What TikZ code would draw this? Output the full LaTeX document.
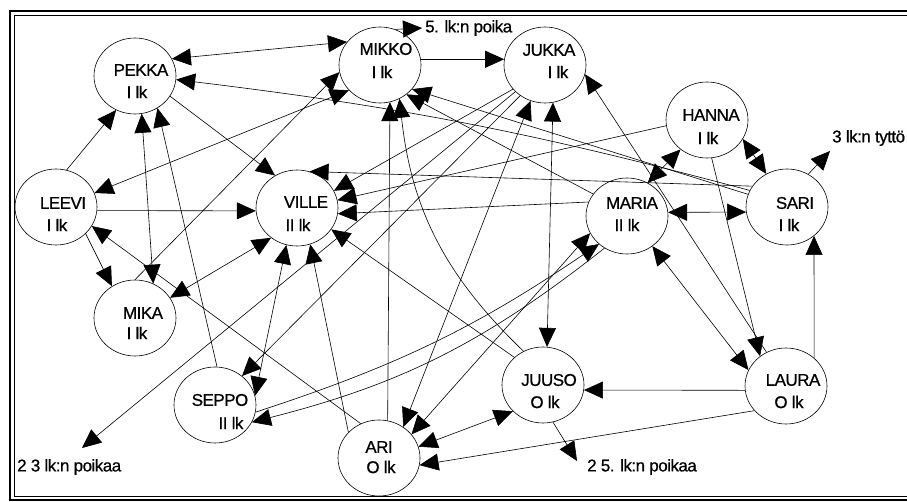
\documentclass[tikz,border=0pt]{standalone}
\usepackage{fontspec}
\setmainfont{Liberation Sans}[LetterSpace=-3, FakeBold=0.7]
\usetikzlibrary{arrows.meta,shapes.geometric}
\begin{document}
\begin{tikzpicture}[x=1pt,y=-1pt,
  pupil/.style={draw, ellipse, minimum width=82pt, minimum height=76pt, inner sep=0pt, line width=0.6pt},
  nm/.style={font=\fontsize{17}{19}\selectfont, inner sep=0pt},
  tag/.style={font=\fontsize{17}{19}\selectfont, inner sep=0pt, anchor=west},
  tie/.style={line width=0.6pt, -{Triangle[length=19pt,width=17pt]}},
  mutual/.style={line width=0.6pt, {Triangle[length=19pt,width=17pt]}-{Triangle[length=19pt,width=17pt]}},
  rim/.style={line width=2pt}
]
\useasboundingbox (0,0) rectangle (907,502);
% frame: double rule on the left, top and bottom
\draw[rim] (907,11) -- (10,11) -- (10,500) -- (907,500);
\draw[line width=0.6pt] (907,15) -- (14,15) -- (14,496) -- (907,496);

% pupils
\node[pupil] (pekka) at (135,76) {};
\node[pupil] (mikko) at (380,65) {};
\node[pupil] (jukka) at (545,65) {};
\node[pupil] (hanna) at (707,120) {};
\node[pupil] (leevi) at (56,207) {};
\node[pupil] (ville) at (297,208) {};
\node[pupil] (maria) at (627,216) {};
\node[pupil] (sari) at (787,207) {};
\node[pupil] (mika) at (135,318) {};
\node[pupil] (seppo) at (215,405) {};
\node[pupil] (ari) at (379,458) {};
\node[pupil] (juuso) at (543,385) {};
\node[pupil] (laura) at (786,386) {};

% names and grades
\node[nm] (pekka-n) at (141,70) {PEKKA};  \node[nm] (pekka-g) at (137,92) {I lk};
\node[nm] (mikko-n) at (386,49) {MIKKO};  \node[nm] (mikko-g) at (382,72) {I lk};
\node[nm] (jukka-n) at (549,50) {JUKKA};  \node[nm] (jukka-g) at (558,72) {I lk};
\node[nm] (hanna-n) at (711,115) {HANNA}; \node[nm] (hanna-g) at (708,138) {I lk};
\node[nm] (leevi-n) at (63,203) {LEEVI};  \node[nm] (leevi-g) at (57,225) {I lk};
\node[nm] (ville-n) at (306,202) {VILLE}; \node[nm] (ville-g) at (298,225) {II lk};
\node[nm] (maria-n) at (632,203) {MARIA}; \node[nm] (maria-g) at (627,225) {II lk};
\node[nm] (sari-n) at (795,203) {SARI};   \node[nm] (sari-g) at (789,225) {I lk};
\node[nm] (mika-n) at (143,313) {MIKA};   \node[nm] (mika-g) at (137,333) {I lk};
\node[nm] (seppo-n) at (220,400) {SEPPO}; \node[nm] (seppo-g) at (231,423) {II lk};
\node[nm] (ari-n) at (379,447) {ARI};     \node[nm] (ari-g) at (381,467) {O lk};
\node[nm] (juuso-n) at (549,380) {JUUSO}; \node[nm] (juuso-g) at (545,402) {O lk};
\node[nm] (laura-n) at (793,380) {LAURA}; \node[nm] (laura-g) at (789,402) {O lk};

% outside choices
\node[tag] (lab5) at (425,28) {5. lk:n poika};
\node[tag] (lab3) at (832,138) {3 lk:n tyttö};
\node[tag] (lab23) at (17,467) {2 3 lk:n poikaa};
\node[tag] (lab25) at (587,467) {2 5. lk:n poikaa};
\coordinate (c5) at (422,28);
\coordinate (c3) at (830,151);
\coordinate (c23) at (82,448);
\coordinate (c25) at (577,461);

% choices
\draw[mutual] (pekka.25) -- (mikko.145);
\draw[tie] (mikko.67) -- (c5);
\draw[tie] (mikko.8) -- (jukka.172);
\draw[tie] (laura.120) -- (jukka.-13);
\draw[tie] (pekka.-30) -- (ville.124);
\draw[tie] (leevi.74) -- (pekka.241);
\draw[mutual] (pekka.-80) -- (mika.62);
\draw[tie] (seppo.87) -- (pekka.-55);
\draw[tie] (sari.156) to[bend right=4] (pekka.-5);
\draw[mutual] (leevi.20) -- (mikko.219);
\draw[tie] (mika.90) -- (mikko.190);
\draw[tie] (leevi.-5) -- (ville.184);
\draw[tie] (leevi.-42) -- (mika.126);
\draw[tie] (ari.118) -- (leevi.-28);
\draw[mutual] (ville.229) -- (mika.30);
\draw[tie] (jukka.217) -- (ville.25);
\draw[tie] (hanna.188) -- (ville.11);
\draw[tie] (sari.149) -- (ville.71);
\draw[tie] (maria.160) -- (ville.-8);
\draw[tie] (juuso.136) -- (ville.-32);
\draw[mutual] (ville.254) -- (seppo.13);
\draw[tie] (ari.140) -- (ville.-70);
\draw[tie] (jukka.231) -- (seppo.47);
\draw[tie] (jukka.222) -- (c23);
\draw[tie] (ari.77) -- (mikko.-75);
\draw[tie] (juuso.120) to[bend left=20] (mikko.-60);
\draw[tie] (sari.162) -- (mikko.-37);
\draw[tie] (maria.147) -- (mikko.-48);
\draw[mutual] (jukka.-78) -- (juuso.84);
\draw[mutual] (jukka.248) -- (ari.52);
\draw[mutual] (ari.36) -- (maria.205);
\draw[tie] (seppo.-10) to[bend right=8] (maria.225);
\draw[tie] (maria.235) to[bend left=12] (seppo.-25);
\draw[mutual] (hanna.228) -- (maria.58);
\draw[mutual] (hanna.-28) -- (sari.122);
\draw[tie] (sari.57) -- (c3);
\draw[mutual] (maria.5) -- (sari.187);
\draw[mutual] (maria.-50) -- (laura.157);
\draw[tie] (laura.45) -- (sari.-47);
\draw[tie] (hanna.-83) -- (laura.131);
\draw[tie] (laura.186) -- (juuso.-7);
\draw[tie] (laura.218) -- (ari.-10);
\draw[mutual] (juuso.221) -- (ari.16);
\draw[tie] (juuso.-75) -- (c25);
\end{tikzpicture}
\end{document}
